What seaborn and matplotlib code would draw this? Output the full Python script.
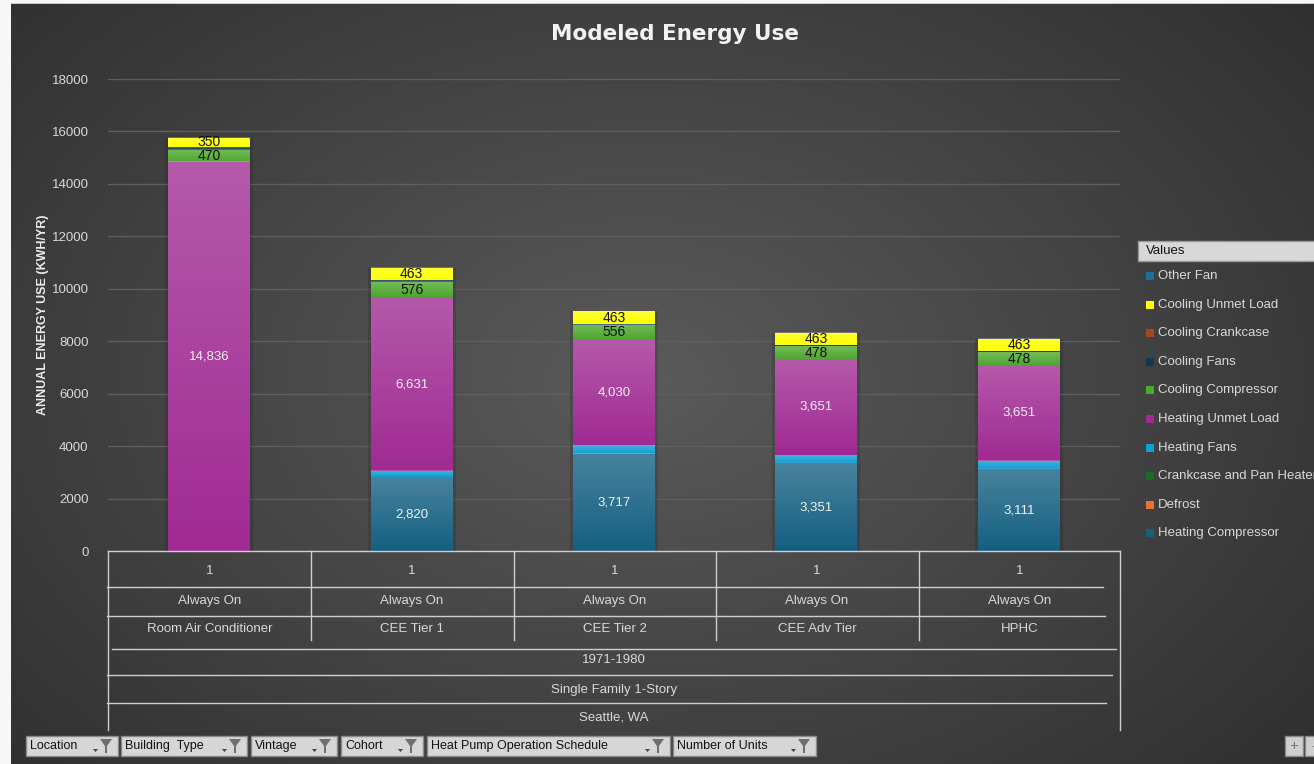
import numpy as np
import pandas as pd
import seaborn as sns
import matplotlib.pyplot as plt
from matplotlib import font_manager
from matplotlib.patches import Rectangle, Polygon

# --- data ---
categories = ["Room Air Conditioner", "CEE Tier 1", "CEE Tier 2", "CEE Adv Tier", "HPHC"]
num_units = ["1", "1", "1", "1", "1"]
schedule = ["Always On", "Always On", "Always On", "Always On", "Always On"]
vintage = "1971-1980"
building_type = "Single Family 1-Story"
location = "Seattle, WA"

heating_compressor = [0, 2820, 3717, 3351, 3111]
defrost = [0, 0, 0, 0, 0]
crankcase_pan = [0, 0, 0, 20, 20]
heating_fans = [0, 230, 320, 300, 320]
heating_unmet = [14836, 6631, 4030, 3651, 3651]
cooling_compressor = [470, 576, 556, 478, 478]
cooling_fans = [100, 70, 50, 50, 50]
cooling_crankcase = [0, 0, 0, 0, 0]
cooling_unmet = [350, 463, 463, 463, 463]
other_fan = [0, 0, 0, 0, 0]

filters = ["Location", "Building  Type", "Vintage", "Cohort", "Heat Pump Operation Schedule", "Number of Units"]

# stacking order bottom -> top
series = {
    "Heating Compressor": heating_compressor,
    "Defrost": defrost,
    "Crankcase and Pan Heater": crankcase_pan,
    "Heating Fans": heating_fans,
    "Heating Unmet Load": heating_unmet,
    "Cooling Compressor": cooling_compressor,
    "Cooling Fans": cooling_fans,
    "Cooling Crankcase": cooling_crankcase,
    "Cooling Unmet Load": cooling_unmet,
    "Other Fan": other_fan,
}
colors = {
    "Heating Compressor": "#156082",
    "Defrost": "#E97132",
    "Crankcase and Pan Heater": "#196B24",
    "Heating Fans": "#0F9ED5",
    "Heating Unmet Load": "#A02B93",
    "Cooling Compressor": "#4EA72E",
    "Cooling Fans": "#0E3A52",
    "Cooling Crankcase": "#A8481A",
    "Cooling Unmet Load": "#FFFF00",
    "Other Fan": "#1C6E9C",
}
label_colors = {
    "Heating Compressor": "#f2f2f2",
    "Heating Unmet Load": "#f2f2f2",
    "Cooling Compressor": "#111111",
    "Cooling Unmet Load": "#111111",
}

df = pd.DataFrame(series, index=categories)
cum = df.cumsum(axis=1)
base = cum - df
totals = df.sum(axis=1)

installed = {f.name for f in font_manager.fontManager.ttflist}
narrow = "Liberation Sans Narrow" if "Liberation Sans Narrow" in installed else "Liberation Sans"
plt.rcParams['font.family'] = ['Liberation Sans', 'DejaVu Sans']

W, H = 1314, 764
BAR_W = 0.405
fig = plt.figure(figsize=(W / 100, H / 100), dpi=100)
fig.patch.set_facecolor('#f7f7f7')

# --- background gradient (chart area starts at x=11, y=4) ---
bg = fig.add_axes([0, 0, 1, 1], zorder=0)
yy, xx = np.mgrid[0:H, 0:W]
d = np.sqrt(((xx - 640) / 880.0) ** 2 + ((yy - 380) / 600.0) ** 2)
shade = np.clip(0.355 - 0.17 * d, 0.165, 0.36)
img = np.dstack([shade, shade, shade])
img[:, :11] = 0.97
img[:3, :] = 0.97
img[3:4, 11:] = 0.78
bg.imshow(img, extent=[0, W, H, 0], aspect='auto', interpolation='bilinear')
bg.set_xlim(0, W)
bg.set_ylim(H, 0)
bg.axis('off')

# --- main chart ---
ax = fig.add_axes([108 / W, 1 - 551 / H, (1120 - 108) / W, (551 - 79) / H], zorder=2)
ax.patch.set_alpha(0)

# soft shadow behind the columns
sns.barplot(x=categories, y=totals.values, color='black', alpha=0.12, saturation=1,
            width=BAR_W + 0.03, errorbar=None, linewidth=0, ax=ax)
for name in reversed(list(series)):
    sns.barplot(x=categories, y=cum[name].values, color=colors[name], saturation=1,
                width=BAR_W, errorbar=None, linewidth=0, ax=ax)

# light sheen on each segment (lighter at its top)
grad = np.zeros((64, 1, 4))
grad[..., :3] = 1.0
grad[:, 0, 3] = np.linspace(0.22, 0.0, 64)
for name in series:
    for i, cat in enumerate(categories):
        v = df.loc[cat, name]
        if v > 0:
            ax.imshow(grad, extent=[i - BAR_W / 2, i + BAR_W / 2, base.loc[cat, name], cum.loc[cat, name]],
                      aspect='auto', origin='upper', zorder=3, interpolation='bilinear')

for name, tc in label_colors.items():
    for i, cat in enumerate(categories):
        v = df.loc[cat, name]
        if v > 0:
            ax.text(i, base.loc[cat, name] + v / 2, f"{v:,}", ha='center', va='center',
                    color=tc, fontsize=9.5 if tc != "#111111" else 10, zorder=4)

ax.set_xlim(-0.5, 4.5)
ax.set_ylim(0, 18000)
ax.set_yticks(range(0, 18001, 2000))
ax.set_yticklabels([str(t) for t in range(0, 18001, 2000)])
ax.tick_params(axis='y', length=0, colors='#d9d9d9', labelsize=9.5, pad=14)
ax.set_xticks([])
ax.set_xlabel("")
ax.grid(axis='y', color='#5e5e5e', linewidth=1)
ax.set_axisbelow(True)
for s in ax.spines.values():
    s.set_visible(False)

# --- overlay in pixel coordinates ---
ov = fig.add_axes([0, 0, 1, 1], zorder=5)
ov.set_xlim(0, W)
ov.set_ylim(H, 0)
ov.axis('off')

ov.text(675, 34, "Modeled Energy Use", ha='center', va='center', fontsize=15.5,
        fontweight='bold', color='#f2f2f2', family=['DejaVu Sans'])
ov.text(43, 315, "ANNUAL ENERGY USE (KWH/YR)", rotation=90, ha='center', va='center',
        fontsize=9, fontweight='bold', color='#ececec')

# category table under the axis
lc = '#cfcfcf'
ov.plot([108, 1120], [551, 551], color=lc, lw=1)
for x in [108, 1120]:
    ov.plot([x, x], [551, 730], color=lc, lw=1)
for x in [311, 514, 716, 919]:
    ov.plot([x, x], [551, 640], color=lc, lw=1)
for y, x0, x1 in [(587, 107, 1103), (616, 107, 1105), (649, 112, 1116), (675, 107, 1112), (703, 107, 1106)]:
    ov.plot([x0, x1], [y, y], color=lc, lw=1)

centers = [210, 412, 615, 817, 1020]
tkw = dict(ha='center', va='center', color='#d9d9d9', fontsize=9.5, family=[narrow, 'DejaVu Sans'])
for cx, u, s, c in zip(centers, num_units, schedule, categories):
    ov.text(cx, 571, u, **tkw)
    ov.text(cx, 601, s, **tkw)
    ov.text(cx, 629, c, **tkw)
ov.text(614, 660, vintage, **tkw)
ov.text(614, 690, building_type, **tkw)
ov.text(614, 718, location, **tkw)

# legend
ov.add_patch(Rectangle((1138, 241), 200, 20, facecolor='#d8d8d8', edgecolor='#9a9a9a', lw=1))
ov.text(1146, 251, "Values", ha='left', va='center', fontsize=9.5, color='#111111',
        family=[narrow, 'DejaVu Sans'])
for i, name in enumerate(reversed(list(series))):
    y = 276 + i * 28.6
    ov.add_patch(Rectangle((1146, y - 4), 8, 8, facecolor=colors[name], edgecolor='none'))
    ov.text(1158, y, name, ha='left', va='center', fontsize=9.5, color='#d9d9d9')

# pivot filter buttons
btn_x = [26, 121, 251, 341, 427, 673]
btn_w = [92, 126, 86, 82, 243, 143]
for label, x, w in zip(filters, btn_x, btn_w):
    ov.add_patch(Rectangle((x, 736), w, 20, facecolor='#d6d6d6', edgecolor='#8a8a8a', lw=1))
    ov.text(x + 4, 746, label, ha='left', va='center', fontsize=9, color='#111111',
            family=[narrow, 'DejaVu Sans'])
    fx = x + w - 12
    ov.add_patch(Polygon([(fx - 6, 739), (fx + 6, 739), (fx + 1, 746), (fx + 1, 753),
                          (fx - 1, 753), (fx - 1, 746)], closed=True, facecolor='#6e6e6e'))
    ov.add_patch(Polygon([(fx - 13, 749), (fx - 8, 749), (fx - 10.5, 752)], closed=True,
                         facecolor='#444444'))
for x, sym in [(1285, "+"), (1305, "-")]:
    ov.add_patch(Rectangle((x, 736), 18, 20, facecolor='#cfcfcf', edgecolor='#8a8a8a', lw=1))
    ov.text(x + 9, 746, sym, ha='center', va='center', fontsize=11, color='#777777')

fig.savefig("out.png", dpi=100)
